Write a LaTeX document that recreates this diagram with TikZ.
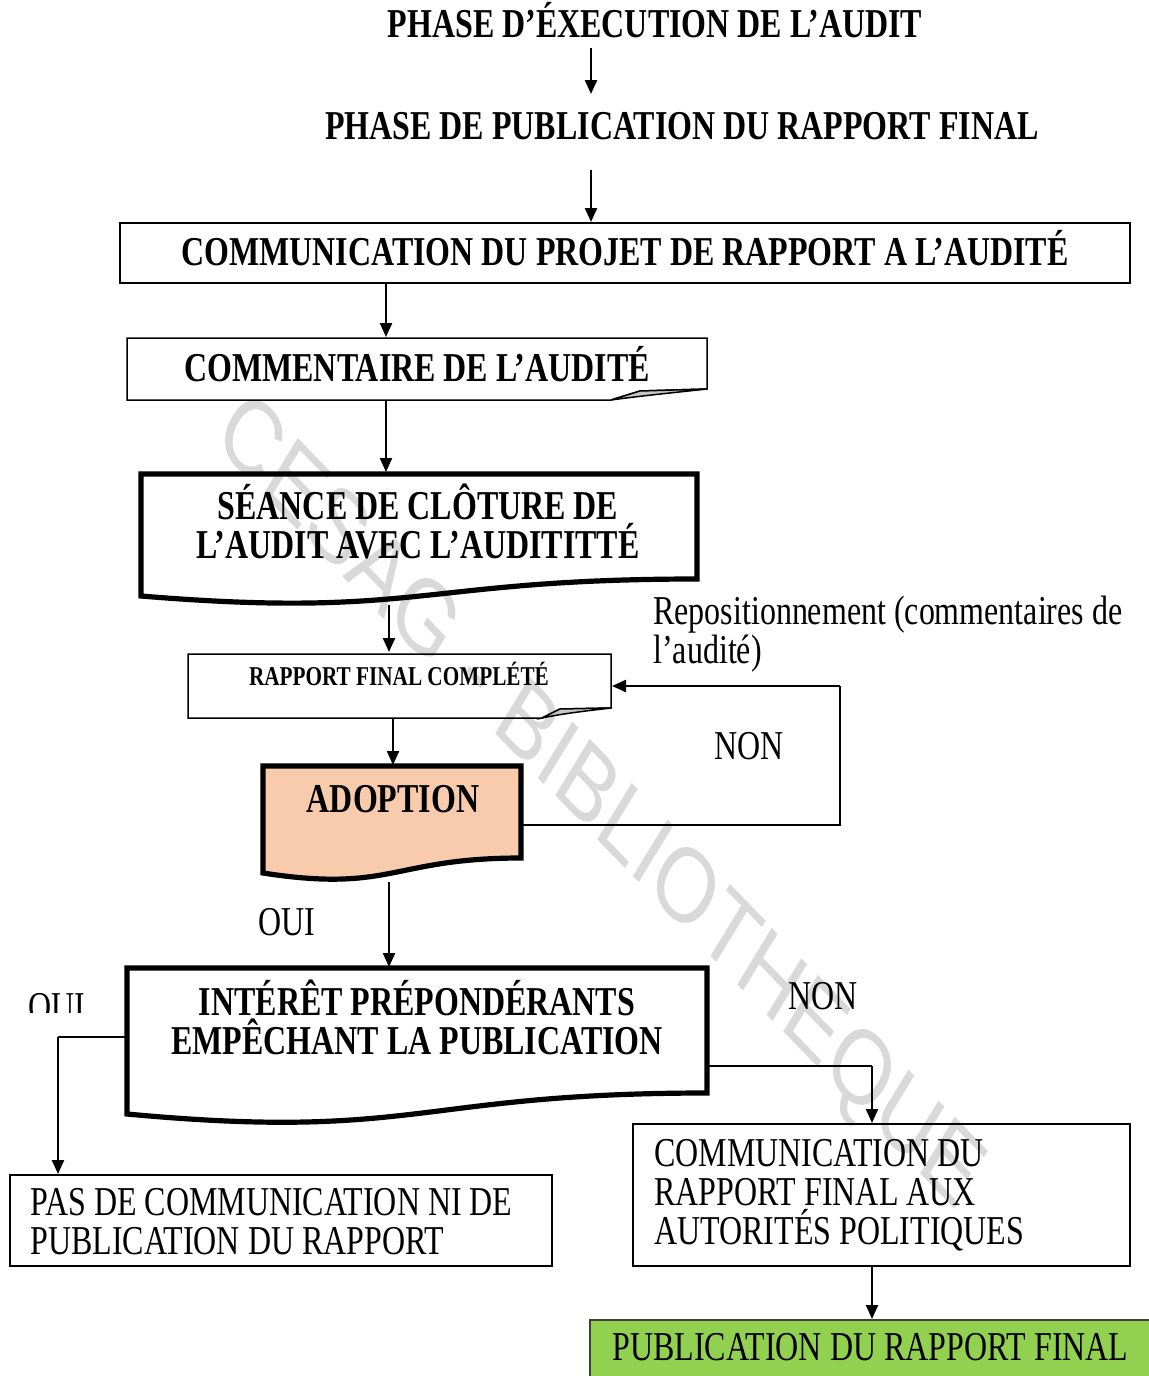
\documentclass[tikz,border=0pt]{standalone}
\usepackage{fontspec}
\usetikzlibrary{arrows.meta}
\newfontfamily\tnr{Liberation Serif}[FakeStretch=0.78]
\newfontfamily\wmfont{Liberation Sans}
\definecolor{peach}{HTML}{F8CBAD}
\definecolor{lgreen}{HTML}{92D050}
\definecolor{wmgray}{HTML}{D9D9D9}
\begin{document}
\begin{tikzpicture}[x=0.5pt,y=-0.5pt,
  txt/.style={font=\tnr\fontsize{20.5}{19.5}\selectfont, inner sep=0pt},
  btxt/.style={font=\tnr\bfseries\fontsize{20.5}{19.5}\selectfont, inner sep=0pt},
  stxt/.style={font=\tnr\bfseries\fontsize{13.6}{13}\selectfont, inner sep=0pt},
  thinbox/.style={draw, line width=0.75pt},
  thickbox/.style={draw, line width=2.6pt, line join=miter},
  conn/.style={line width=1.1pt, -{Triangle[length=7pt,width=6pt]}},
  thinline/.style={line width=0.7pt},
  curl/.style={draw, line width=0.75pt, fill=gray!45},
]
\clip (0,0) rectangle (1149,1376);
\fill[white] (0,0) rectangle (1149,1376);

% watermark
\begin{scope}[yscale=1.3]
\node[font=\wmfont\fontsize{40.4}{40.4}\selectfont, text=wmgray, rotate=-38.5, transform shape] (wm) at (598,620) {CESAG - BIBLIOTHEQUE};
\end{scope}

% titles
\node[btxt, anchor=base] (t1) at (655,37) {PHASE D’ÉXECUTION DE L’AUDIT};
\node[btxt, anchor=base] (t2) at (682,139) {PHASE DE PUBLICATION DU RAPPORT FINAL};

% box 1
\path[thinbox] (120,223) rectangle (1130,283);
\node[btxt, anchor=base] (t3) at (625,265) {COMMUNICATION DU PROJET DE RAPPORT A L’AUDITÉ};

% box 2 (folded corner)
\path[thinbox] (127,338) -- (707,338) -- (707,389) -- (640,391) -- (611,400) -- (127,400) -- cycle;
\path[curl] (611,400) -- (640,391) -- (707,389) .. controls (670,393) and (640,396) .. (611,400) -- cycle;
\node[btxt, anchor=base] (t4) at (417,381) {COMMENTAIRE DE L’AUDITÉ};

% box 3 (document)
\path[thickbox] (141,474) -- (697,474) -- (697,579) .. controls (419,579) and (419,619) .. (141,596) -- cycle;
\node[btxt, anchor=base, align=center] (t5) at (418,558) {SÉANCE DE CLÔTURE DE\\L’AUDIT AVEC L’AUDITITTÉ};

% rapport final (folded corner)
\path[thinbox] (188,654) -- (611,654) -- (611,708) -- (560,709) -- (542,718) -- (188,718) -- cycle;
\path[curl] (542,718) -- (560,709) -- (611,708) .. controls (585,711) and (560,714) .. (542,718) -- cycle;
\node[stxt, anchor=base] (t6) at (399,685) {RAPPORT FINAL COMPLÉTÉ};

% adoption (document)
\path[thickbox, fill=peach] (263,766) -- (521,766) -- (521,858) .. controls (392,858) and (392,893) .. (263,873) -- cycle;
\node[btxt, anchor=base] (t7) at (393,812) {ADOPTION};

% interet (document)
\path[thickbox] (127,968) -- (707,968) -- (707,1093) .. controls (417,1093) and (417,1141) .. (127,1114) -- cycle;
\node[btxt, anchor=base, align=center] (t8) at (417,1054) {INTÉRÊT PRÉPONDÉRANTS\\EMPÊCHANT LA PUBLICATION};

% bottom boxes
\path[thinbox] (10,1175) rectangle (552,1266);
\node[txt, anchor=base west, align=left] (t9) at (30,1254) {PAS DE COMMUNICATION NI DE\\PUBLICATION DU RAPPORT};
\path[thinbox] (633,1124) rectangle (1130,1266);
\node[txt, anchor=base west, align=left] (t10) at (654,1244) {COMMUNICATION DU\\RAPPORT FINAL AUX\\AUTORITÉS POLITIQUES};
\path[thinbox, draw=black!75, fill=lgreen] (590,1320) rectangle (1160,1390);
\node[txt, anchor=base west] (t11) at (612,1360) {PUBLICATION DU RAPPORT FINAL};

% labels
\node[txt, anchor=base west, align=left] (l1) at (653,663) {Repositionnement (commentaires de\\l’audité)};
\node[txt, anchor=base] (l2) at (749,759) {NON};
\node[txt, anchor=base] (l3) at (287,935) {OUI};
\node[txt, anchor=base] (l4) at (823,1009) {NON};
\begin{scope}
\clip (0,980) rectangle (120,1012);
\node[txt, anchor=base] (l5) at (57,1020) {OUI};
\end{scope}

% connector points
\coordinate (a1) at (591,48);
\coordinate (a2) at (591,94);
\coordinate (a3) at (591,170);
\coordinate (b1n) at (591,222);
\coordinate (b1s) at (386,283);
\coordinate (b2n) at (386,337);
\coordinate (b2s) at (386,400);
\coordinate (b3n) at (386,472);
\coordinate (b3s) at (389,605);
\coordinate (rn) at (389,652);
\coordinate (rs) at (393,718);
\coordinate (adn) at (393,765);
\coordinate (ads) at (389,882);
\coordinate (ade) at (521,825);
\coordinate (re) at (612,686);
\coordinate (loop1) at (840,825);
\coordinate (loop2) at (840,686);
\coordinate (inn) at (389,967);
\coordinate (inw) at (127,1037);
\coordinate (ine) at (707,1066);
\coordinate (lft) at (58,1037);
\coordinate (pasn) at (58,1174);
\coordinate (rgt) at (872,1066);
\coordinate (comn) at (872,1123);
\coordinate (coms) at (872,1266);
\coordinate (pubn) at (872,1319);

% connectors
\draw[conn] (a1) -- (a2);
\draw[conn] (a3) -- (b1n);
\draw[conn] (b1s) -- (b2n);
\draw[conn] (b2s) -- (b3n);
\draw[conn] (b3s) -- (rn);
\draw[conn] (rs) -- (adn);
\draw[conn] (ads) -- (inn);
\draw[thinline] (ade) -- (loop1) -- (loop2);
\draw[conn] (loop2) -- (re);
\draw[thinline] (inw) -- (lft);
\draw[conn] (lft) -- (pasn);
\draw[thinline] (ine) -- (rgt);
\draw[conn] (rgt) -- (comn);
\draw[conn] (coms) -- (pubn);
\end{tikzpicture}
\end{document}
